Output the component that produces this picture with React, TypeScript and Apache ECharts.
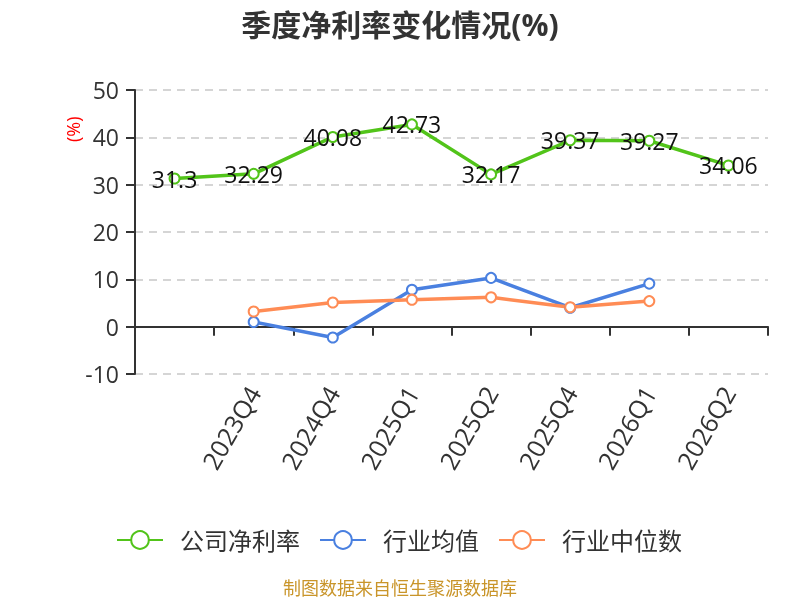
import React, { useEffect, useRef } from "react";
import * as echarts from "echarts";

const categories = ["", "2023Q4", "2024Q4", "2025Q1", "2025Q2", "2025Q4", "2026Q1", "2026Q2"];
const companyNetMargin = [31.3, 32.29, 40.08, 42.73, 32.17, 39.37, 39.27, 34.06];
const industryAverage = [null, 1.0, -2.3, 7.8, 10.3, 4.0, 9.1, null];
const industryMedian = [null, 3.2, 5.1, 5.7, 6.2, 4.1, 5.4, null];
const seriesNames = ["公司净利率", "行业均值", "行业中位数"];
const colors = ["#52c41a", "#4a80e0", "#ff8c55"];

const FONT = "'Open Sans', 'Noto Sans CJK SC', sans-serif";

export default function App() {
  const ref = useRef<HTMLDivElement>(null);
  useEffect(() => {
    if (!ref.current) return;
    const chart = echarts.init(ref.current, undefined, { renderer: "svg" });
    const mk = (i: number, data: (number | null)[], label: boolean) => ({
      name: seriesNames[i],
      type: "line",
      data,
      symbol: "emptyCircle",
      symbolSize: 10,
      lineStyle: { width: 3.5, color: colors[i] },
      itemStyle: { color: colors[i], borderWidth: 2 },
      label: label
        ? { show: true, position: "inside", fontSize: 23, color: "#111", fontFamily: FONT }
        : { show: false },
      z: label ? 3 : 2,
    });
    chart.setOption({
      animation: false,
      textStyle: { fontFamily: FONT },
      title: {
        text: "季度净利率变化情况(%)",
        left: "center",
        top: 4,
        textStyle: { fontSize: 30, fontWeight: "bold", color: "#333", fontFamily: FONT },
      },
      grid: { left: 135, right: 32, top: 90, bottom: 226, containLabel: false },
      legend: {
        top: 523,
        left: 111,
        itemWidth: 46,
        itemHeight: 22,
        itemGap: 19,
        textStyle: { fontSize: 24, color: "#333", fontFamily: FONT, padding: [0, 0, 0, 12] },
        data: seriesNames,
      },
      xAxis: {
        type: "category",
        data: categories,
        boundaryGap: true,
        axisLine: { lineStyle: { color: "#333", width: 2 }, onZero: true },
        axisTick: { show: true, length: 9, lineStyle: { color: "#333", width: 2 } },
        axisLabel: { rotate: 60, fontSize: 25, color: "#333", interval: 0, margin: 14 },
      },
      yAxis: {
        type: "value",
        min: -10,
        max: 50,
        interval: 10,
        axisLine: { show: true, lineStyle: { color: "#333", width: 2 } },
        axisTick: { show: true, length: 9, lineStyle: { color: "#333", width: 2 } },
        axisLabel: { fontSize: 23, color: "#333", margin: 16 },
        splitLine: { lineStyle: { type: [8, 6], color: "#c8c8c8", width: 1.5 } },
      },
      graphic: [
        {
          type: "text",
          x: 64,
          y: 142,
          rotation: Math.PI / 2,
          style: { text: "(%)", fill: "#ff0000", fontSize: 18, fontFamily: FONT },
        },
        {
          type: "text",
          left: "center",
          top: 579,
          style: { text: "制图数据来自恒生聚源数据库", fill: "#c9952a", fontSize: 18, fontFamily: FONT },
        },
      ],
      series: [
        mk(0, companyNetMargin, true),
        mk(1, industryAverage, false),
        mk(2, industryMedian, false),
      ],
    });
    return () => chart.dispose();
  }, []);
  return <div ref={ref} style={{ position: "fixed", left: 0, top: 0, width: 800, height: 600 }} />;
}
